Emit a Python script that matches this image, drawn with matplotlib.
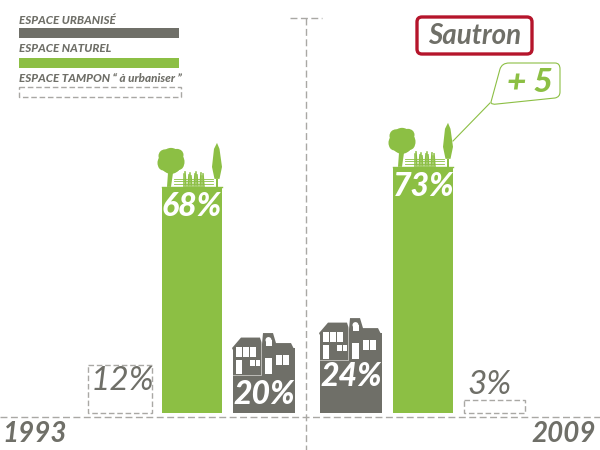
import matplotlib
matplotlib.use("Agg")
import matplotlib.pyplot as plt
from matplotlib.patches import Ellipse, FancyBboxPatch, PathPatch, Polygon, Rectangle
from matplotlib.path import Path

# data
years = ["1993", "2009"]
tampon = [12, 3]
naturel = [68, 73]
urbanise = [20, 24]
# drawn heights differ a little from the printed percentages
tampon_h = [14.1, 3.8]
naturel_h = [66.5, 72.4]
urbanise_h = [19.1, 23.5]
commune = "Sautron"
evolution = "+ 5"
legend_labels = ["ESPACE URBANISÉ", "ESPACE NATUREL", "ESPACE TAMPON “ à urbaniser ”"]

GREY = "#6f6f68"
GREEN = "#8cbf44"
DASH = "#a9a8a4"
RED = "#b5152b"
FONT = ["Lato", "Liberation Sans", "DejaVu Sans"]
PX_PER_UNIT = 3.4
BASE_PY = 413


def label(ax, x, y, s, size, color=GREY, weight="bold", ha="center"):
    ax.text(x, y, s, fontsize=size, color=color, ha=ha, va="center",
            style="italic", weight=weight, family=FONT, zorder=6)


def dashed_box(ax, x0, y0, x1, y1):
    ax.add_patch(Rectangle((x0, y0), x1 - x0, y1 - y0, fc="none", ec=DASH,
                           lw=1.0, ls=(0, (4, 2)), zorder=4))


def plants(ax, left, top):
    # tree, fence, reeds and cypress standing on a green bar
    for dx, dy, w, h in [(9, -26, 22, 26), (1, -24, 11, 15), (17, -25, 11, 16), (3, -31, 13, 13),
                         (15, -32, 13, 12), (9, -19, 18, 10)]:
        ax.add_patch(Ellipse((left + dx, top + dy), w, h, color=GREEN, lw=0))
    ax.add_patch(Polygon([(left + 6, top - 14), (left + 11, top - 14),
                          (left + 9, top), (left + 5, top)], color=GREEN, lw=0))
    ax.add_patch(Polygon([(left + 55, top - 44), (left + 57.5, top - 38), (left + 60, top - 20),
                          (left + 57.5, top - 8), (left + 52.5, top - 8), (left + 50, top - 20),
                          (left + 52, top - 38)], color=GREEN, lw=0))
    ax.add_patch(Rectangle((left + 54, top - 8), 2, 8, color=GREEN, lw=0))
    for dy in (3, 6, 8):
        ax.plot([left + 12, left + 51], [top - dy, top - dy], color=GREEN, lw=0.6)
    for dx in range(22, 44, 2):
        ax.plot([dx + left, dx + left + (dx % 3 - 1)], [top, top - 11 - dx % 5],
                color=GREEN, lw=1.1)
    ax.plot([left, left + 60], [top, top], color=GREEN, lw=1.0)


def house(ax, left, eave):
    pts = [(-1, 0), (8, -10.5), (27, -10.5), (29, -4), (30, -15), (40, -15),
           (43, -5), (58, -5), (61, 1)]
    outline = [(left + dx, eave + dy) for dx, dy in pts]
    ax.add_patch(Polygon(outline + [(left + 61, eave + 2), (left, eave + 2)],
                         color=GREY, lw=0, zorder=3))
    windows = [(3, -1, 5.5, 10), (10, -1, 5.5, 10), (17, -1, 6, 10), (3, 12, 5.5, 14),
               (17, 12, 4.5, 6), (22.5, 12, 4.5, 6), (32, 10, 7, 16), (43, 7, 6, 10), (50, 7, 6, 10),
               (32.5, -8, 6, 6)]
    for dx, dy, w, h in windows:
        ax.add_patch(Rectangle((left + dx, eave + dy), w, h, color="white", lw=0, zorder=4))
    ax.add_patch(Ellipse((left + 35.5, eave - 8), 6, 6, color="white", lw=0, zorder=4))
    ax.plot([left, left + 28, left + 28], [eave + 27, eave + 27, eave - 6],
            color="#c9c8c4", lw=0.6, zorder=4)


fig = plt.figure(figsize=(6, 4.5), dpi=100)

ax = fig.add_axes([0, 0, 1, 1])
ax.set_xlim(0, 600)
ax.set_ylim((BASE_PY - 450) / PX_PER_UNIT, BASE_PY / PX_PER_UNIT)
ax.axis("off")

naturel_x = [192, 423]
urbanise_x = [264, 351]
ax.bar(naturel_x, naturel_h, width=60, color=GREEN, zorder=2)
ax.bar(urbanise_x, urbanise_h, width=62, color=GREY, zorder=2)

# overlay in pixel coordinates for the decoration
px = fig.add_axes([0, 0, 1, 1], facecolor="none")
px.set_xlim(0, 600)
px.set_ylim(450, 0)
px.axis("off")

px.plot([0, 600], [417, 417], color=DASH, lw=1.0, ls=(0, (5, 2.5)))
px.plot([306, 306], [18, 450], color=DASH, lw=1.0, ls=(0, (5, 2.5)))
px.plot([290, 322], [18, 18], color=DASH, lw=1.0, ls=(0, (5, 2.5)))

# legend
for text, y in zip(legend_labels, [20, 49, 78]):
    label(px, 19, y, text, 8.4, ha="left", weight=900)
px.add_patch(Rectangle((19, 28), 160, 10, color=GREY, lw=0))
px.add_patch(Rectangle((19, 58), 160, 10, color=GREEN, lw=0))
dashed_box(px, 19, 87, 181, 97)

# title box
px.add_patch(FancyBboxPatch((417, 17), 115, 37, boxstyle="round,pad=0,rounding_size=5",
                            fc="white", ec=RED, lw=2.4))
label(px, 475, 36, commune, 20)

# callout
callout = Path([(509, 63), (555, 63), (560, 63), (560, 69), (560, 92), (560, 97), (555, 98),
                (497, 104), (491, 105), (491, 102), (500, 69), (502, 63), (509, 63)],
               [Path.MOVETO, Path.LINETO, Path.CURVE3, Path.CURVE3, Path.LINETO, Path.CURVE3,
                Path.CURVE3, Path.LINETO, Path.CURVE3, Path.CURVE3, Path.LINETO, Path.CURVE3,
                Path.CURVE3])
px.add_patch(PathPatch(callout, fc="white", ec=GREEN, lw=0.8))
px.plot([490, 453], [103, 141], color=GREEN, lw=0.8)
label(px, 530, 83, evolution, 24, color=GREEN, weight=900)

# 1993 / 2009 groups
for i, year in enumerate(years):
    top = BASE_PY - naturel_h[i] * PX_PER_UNIT
    plants(px, naturel_x[i] - 30, top)
    house(px, urbanise_x[i] - 31, BASE_PY - urbanise_h[i] * PX_PER_UNIT)

dashed_box(px, 88, BASE_PY - tampon_h[0] * PX_PER_UNIT, 152, BASE_PY)
dashed_box(px, 464, BASE_PY - tampon_h[1] * PX_PER_UNIT, 525, BASE_PY)

label(px, 192, 206, f"{naturel[0]}%", 23, color="white", weight=900)
label(px, 424, 186, f"{naturel[1]}%", 23, color="white", weight=900)
label(px, 264, 395, f"{urbanise[0]}%", 23, color="white", weight=900)
label(px, 351, 377, f"{urbanise[1]}%", 23, color="white", weight=900)
label(px, 122, 381, f"{tampon[0]}%", 24, weight="normal")
label(px, 490, 385, f"{tampon[1]}%", 24, weight="normal")
label(px, 35, 434, years[0], 20)
label(px, 564, 434, years[1], 20)

fig.savefig("out.png", dpi=100)
